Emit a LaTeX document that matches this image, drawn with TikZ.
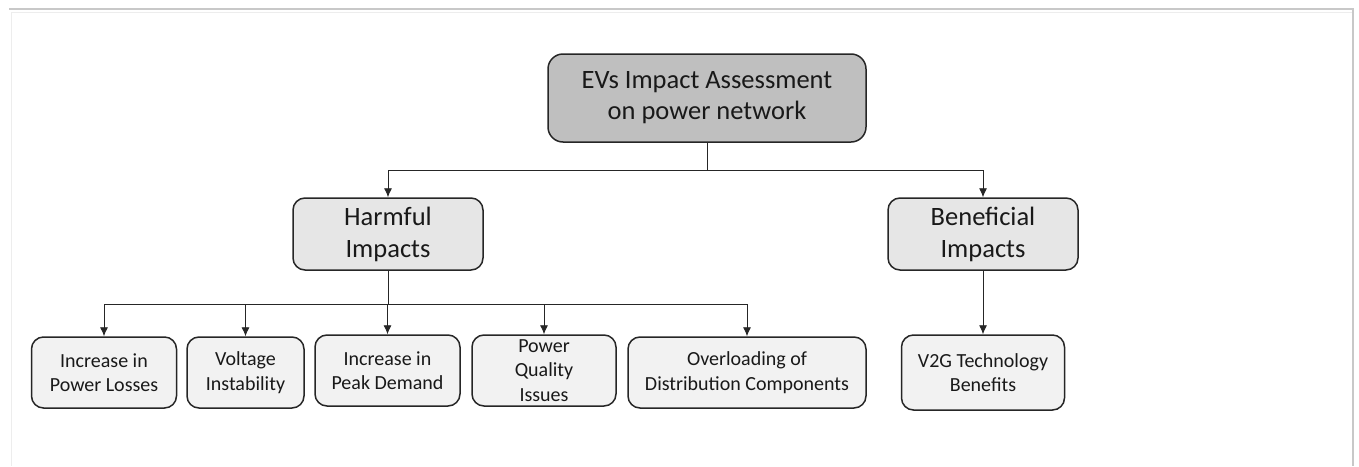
\documentclass[tikz,border=0pt]{standalone}
\usepackage{fontspec}
\setmainfont{Carlito}
\usepackage{tikz}
\usetikzlibrary{arrows.meta}
\definecolor{rootgray}{HTML}{BFBFBF}
\definecolor{midgray}{HTML}{E6E6E6}
\definecolor{leafgray}{HTML}{F2F2F2}
\definecolor{edgegray}{HTML}{262626}
\definecolor{framegray}{HTML}{C8C8C8}
\definecolor{faintgray}{HTML}{EDEDED}

\begin{document}
\begin{tikzpicture}[x=1pt,y=-1pt,
		box/.style={draw=edgegray,line width=1.5pt,rounded corners=12pt,align=center,inner sep=0pt,text=black!90},
		rootbox/.style={box,fill=rootgray,font=\fontsize{26.5}{31}\selectfont,rounded corners=15pt},
		midbox/.style={box,fill=midgray,font=\fontsize{26.5}{32}\selectfont},
		leafbox/.style={box,fill=leafgray,font=\fontsize{20}{24.5}\selectfont},
		link/.style={draw=edgegray,line width=0.8pt},
		arr/.style={link,-{Latex[length=9pt,width=8pt]}}]
		\useasboundingbox (0,0) rectangle (1359,466);
		% frame of the page
		\draw[framegray,line width=1.5pt] (9,9) -- (1354,9);
		\draw[faintgray,line width=1pt] (11,12) -- (1352,12);
		\draw[faintgray,line width=1pt] (11,12) -- (11,466);
		\draw[framegray,line width=1.5pt] (1353,9) -- (1353,466);
		% top level
		\node[rootbox,minimum width=318pt,minimum height=88pt] (root) at (707,98) {EVs Impact Assessment\\on power network};
		\node[midbox,minimum width=190pt,minimum height=72pt] (harm) at (388,234) {Harmful\\Impacts};
		\node[midbox,minimum width=190pt,minimum height=72pt] (bene) at (983,234) {Beneficial\\Impacts};
		% leaves
		\node[leafbox,minimum width=145pt,minimum height=71pt] (loss) at (104,372.5) {Increase in\\Power Losses};
		\node[leafbox,minimum width=117pt,minimum height=71pt] (volt) at (245.5,372.5) {Voltage\\Instability};
		\node[leafbox,minimum width=145pt,minimum height=71pt] (peak) at (387.5,370.5) {Increase in\\Peak Demand};
		\node[leafbox,minimum width=144pt,minimum height=71pt] (qual) at (544,370.5) {Power\\Quality\\Issues};
		\node[leafbox,minimum width=238pt,minimum height=71pt] (over) at (747,372.5) {Overloading of\\Distribution Components};
		\node[leafbox,minimum width=163pt,minimum height=75pt] (vtog) at (983,372.5) {V2G Technology\\Benefits};
		% connectors
		\coordinate (rsplit) at (707,170);
		\coordinate (hsplit) at (388,304);
		\draw[link] (root.south) -- (rsplit);
		\draw[arr] (rsplit) -| (harm.north);
		\draw[arr] (rsplit) -| (bene.north);
		\draw[link] (harm.south) -- (hsplit);
		\foreach \leaf in {loss,volt,peak,qual,over}
			\draw[arr] (hsplit) -| (\leaf.north);
		\draw[arr] (bene.south) -- (vtog.north);
	\end{tikzpicture}
\end{document}
